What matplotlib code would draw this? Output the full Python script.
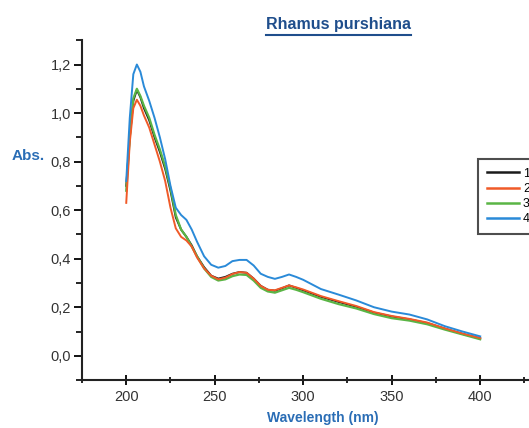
import matplotlib
matplotlib.use("Agg")
import matplotlib.pyplot as plt
from matplotlib.lines import Line2D
from matplotlib.ticker import FuncFormatter, MultipleLocator, FixedLocator

plt.rcParams['font.family'] = ['Liberation Sans', 'DejaVu Sans']

# Wavelength grid (nm) and absorbance
wavelength = [200, 202, 204, 206, 208, 210, 213, 216, 219, 222, 225, 228, 231, 234,
              237, 240, 244, 248, 252, 256, 260, 264, 268, 272, 276, 280, 284, 288,
              292, 296, 300, 310, 320, 330, 340, 350, 360, 370, 380, 390, 400]

abs_black = [0.70, 0.90, 1.05, 1.095, 1.065, 1.02, 0.97, 0.90, 0.84, 0.77, 0.68, 0.57, 0.52, 0.49,
             0.455, 0.41, 0.365, 0.33, 0.318, 0.325, 0.338, 0.345, 0.342, 0.318, 0.288, 0.272, 0.268, 0.278,
             0.29, 0.28, 0.27, 0.243, 0.222, 0.202, 0.178, 0.162, 0.15, 0.135, 0.112, 0.09, 0.072]

abs_red = [0.63, 0.88, 1.02, 1.055, 1.03, 0.99, 0.94, 0.87, 0.80, 0.72, 0.61, 0.525, 0.49, 0.475,
           0.45, 0.405, 0.36, 0.33, 0.315, 0.322, 0.337, 0.345, 0.342, 0.318, 0.288, 0.272, 0.27, 0.28,
           0.29, 0.282, 0.273, 0.246, 0.225, 0.205, 0.18, 0.164, 0.152, 0.137, 0.113, 0.092, 0.073]

abs_green = [0.68, 0.90, 1.06, 1.10, 1.07, 1.03, 0.98, 0.91, 0.85, 0.78, 0.69, 0.58, 0.52, 0.49,
             0.45, 0.41, 0.36, 0.325, 0.31, 0.315, 0.328, 0.335, 0.333, 0.31, 0.28, 0.265, 0.26, 0.27,
             0.28, 0.272, 0.262, 0.235, 0.213, 0.195, 0.172, 0.155, 0.145, 0.13, 0.108, 0.088, 0.068]

abs_blue = [0.72, 0.98, 1.16, 1.20, 1.17, 1.11, 1.05, 0.98, 0.90, 0.81, 0.70, 0.61, 0.58, 0.56,
            0.52, 0.47, 0.41, 0.375, 0.363, 0.37, 0.39, 0.395, 0.395, 0.372, 0.338, 0.325, 0.317, 0.325,
            0.335, 0.325, 0.313, 0.275, 0.252, 0.228, 0.20, 0.182, 0.17, 0.15, 0.122, 0.10, 0.08]

labels = ["1", "2", "3", "4"]
x_ticks = [200, 250, 300, 350, 400]

fig = plt.figure(figsize=(5.29, 4.28), dpi=100)
ax = fig.add_axes([0.155, 0.112, 0.92, 0.794])

l_black, = ax.plot(wavelength, abs_black, color="#1a1a1a", lw=1.4, label=labels[0])
l_green, = ax.plot(wavelength, abs_green, color="#5ab545", lw=1.6, label=labels[2])
l_red, = ax.plot(wavelength, abs_red, color="#f05a28", lw=1.4, label=labels[1])
l_blue, = ax.plot(wavelength, abs_blue, color="#2a8ad8", lw=1.4, label=labels[3])

ax.set_xlim(175, 450)
ax.set_ylim(-0.1, 1.3)
ax.xaxis.set_major_locator(FixedLocator(x_ticks))
ax.xaxis.set_minor_locator(MultipleLocator(25))
ax.yaxis.set_major_locator(MultipleLocator(0.2))
ax.yaxis.set_minor_locator(MultipleLocator(0.1))
ax.yaxis.set_major_formatter(FuncFormatter(lambda v, p: f"{v:.1f}".replace(".", ",").replace("-0,0", "0,0")))

for s in ["top", "right"]:
    ax.spines[s].set_visible(False)
for s in ["left", "bottom"]:
    ax.spines[s].set_linewidth(1.5)
    ax.spines[s].set_color("#222222")

ax.tick_params(axis="y", which="major", direction="out", length=6, width=1.3, labelsize=10.5,
               labelcolor="#333333", pad=2)
ax.tick_params(axis="y", which="minor", direction="out", length=4, width=1.2)
ax.tick_params(axis="x", which="major", direction="inout", length=7, width=1.3, labelsize=10.5,
               labelcolor="#333333", pad=4)
ax.tick_params(axis="x", which="minor", direction="inout", length=5, width=1.2)

label_color = "#2a6db5"
fig.text(0.053, 0.635, "Abs.", color=label_color, fontsize=11, fontweight="bold", ha="center", va="center")
fig.text(0.61, 0.023, "Wavelength (nm)", color=label_color, fontsize=10, fontweight="bold",
         ha="center", va="center")
title = fig.text(0.64, 0.942, "Rhamus purshiana", color="#1f4e8c", fontsize=11.5, fontweight="bold",
                 ha="center", va="center")

leg = fig.legend(handles=[l_black, l_red, l_green, l_blue], loc="upper left",
                 bbox_to_anchor=(0.9036, 0.6285), borderaxespad=0, frameon=True, fancybox=False,
                 fontsize=9, handlelength=2.6, borderpad=0.7, labelspacing=0.25, handletextpad=0.3)
leg.get_frame().set_edgecolor("#222222")
leg.get_frame().set_linewidth(1.5)
for h in leg.get_lines():
    h.set_linewidth(1.8)

# underline the title
fig.canvas.draw()
bb = title.get_window_extent().transformed(fig.transFigure.inverted())
fig.add_artist(Line2D([bb.x0, bb.x1], [bb.y0 - 0.006, bb.y0 - 0.006], transform=fig.transFigure,
                      color="#1f4e8c", lw=1.5))

plt.savefig("out.png", dpi=100)
